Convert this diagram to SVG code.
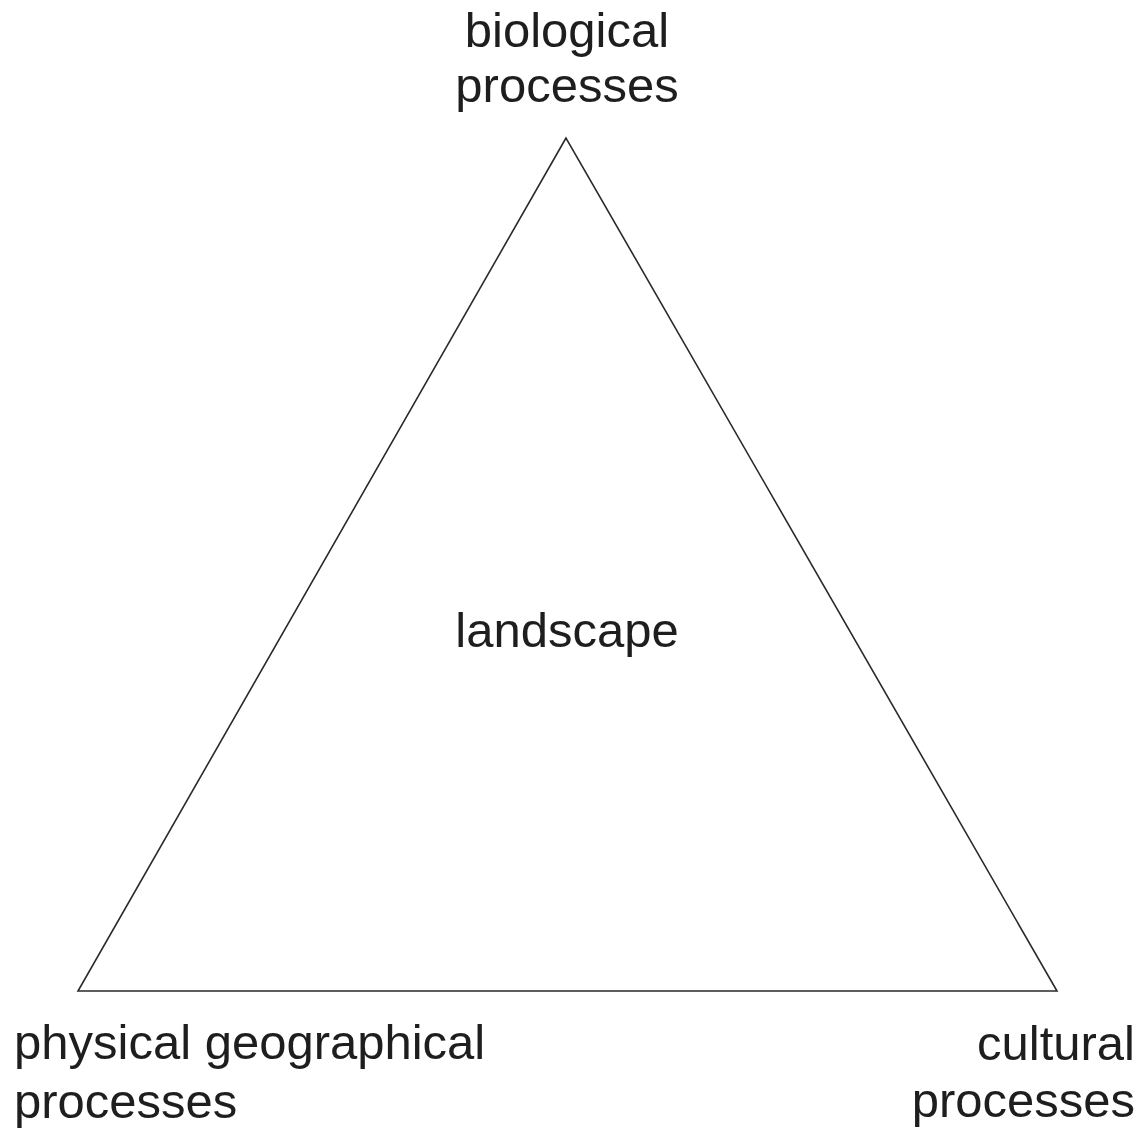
<svg xmlns="http://www.w3.org/2000/svg" width="1143" height="1132" viewBox="0 0 1143 1132">
<style>
text { font-family: "Liberation Sans", Arial, sans-serif; font-size: 49px; fill: #1e1e1e; }
.tri { fill: none; stroke: #2a2a2a; stroke-width: 1.6; stroke-linejoin: miter; }
</style>
<rect width="1143" height="1132" fill="#ffffff"/>
<g id="connectors">
<polygon class="tri" points="566,138 78,991 1057,991"/>
</g>
<g id="biological">
<text x="567" y="47" text-anchor="middle">biological</text>
<text x="567" y="102" text-anchor="middle">processes</text>
</g>
<g id="landscape">
<text x="567" y="647" text-anchor="middle">landscape</text>
</g>
<g id="physical">
<text x="14" y="1059">physical geographical</text>
<text x="14" y="1118">processes</text>
</g>
<g id="cultural">
<text x="1135" y="1060" text-anchor="end">cultural</text>
<text x="1135" y="1117" text-anchor="end">processes</text>
</g>
</svg>
